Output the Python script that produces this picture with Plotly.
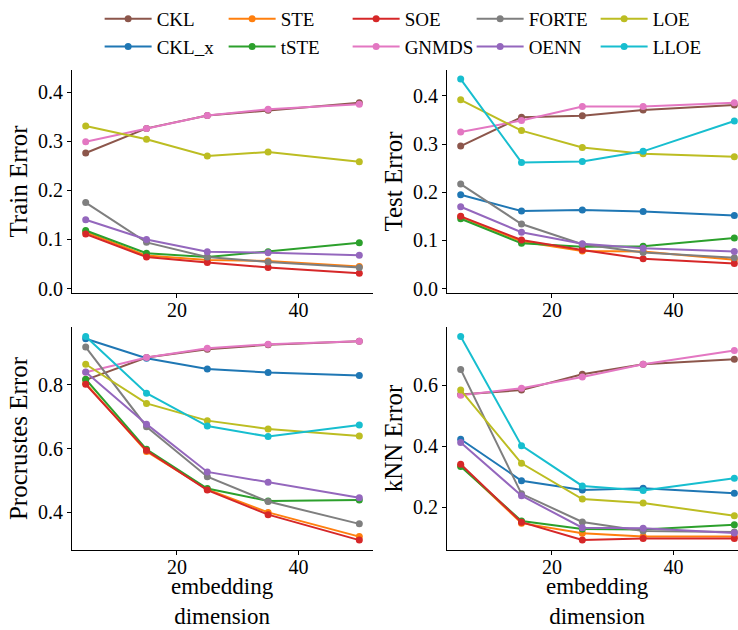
import plotly.graph_objects as go

dims = [5, 15, 25, 35, 50]

methods = ["CKL", "CKL_x", "STE", "tSTE", "SOE", "GNMDS", "FORTE", "OENN", "LOE", "LLOE"]
colors = {
    "CKL": "#8c564b", "CKL_x": "#1f77b4", "STE": "#ff7f0e", "tSTE": "#2ca02c",
    "SOE": "#d62728", "GNMDS": "#e377c2", "FORTE": "#7f7f7f", "OENN": "#9467bd",
    "LOE": "#bcbd22", "LLOE": "#17becf",
}
legend_rank = {"CKL": 1, "STE": 2, "SOE": 3, "FORTE": 4, "LOE": 5,
               "CKL_x": 6, "tSTE": 7, "GNMDS": 8, "OENN": 9, "LLOE": 10}

train_error = {
    "CKL":   [0.276, 0.326, 0.352, 0.363, 0.378],
    "STE":   [0.115, 0.067, 0.058, 0.056, 0.045],
    "tSTE":  [0.118, 0.072, 0.064, 0.075, 0.093],
    "SOE":   [0.111, 0.064, 0.053, 0.043, 0.031],
    "GNMDS": [0.299, 0.326, 0.352, 0.365, 0.375],
    "FORTE": [0.175, 0.094, 0.064, 0.054, 0.043],
    "OENN":  [0.140, 0.100, 0.075, 0.073, 0.068],
    "LOE":   [0.331, 0.304, 0.270, 0.278, 0.258],
}

test_error = {
    "CKL":   [0.296, 0.356, 0.359, 0.371, 0.381],
    "CKL_x": [0.195, 0.161, 0.163, 0.160, 0.152],
    "STE":   [0.149, 0.098, 0.078, 0.077, 0.060],
    "tSTE":  [0.145, 0.094, 0.087, 0.088, 0.105],
    "SOE":   [0.150, 0.101, 0.080, 0.062, 0.052],
    "GNMDS": [0.325, 0.349, 0.378, 0.378, 0.386],
    "FORTE": [0.217, 0.134, 0.092, 0.075, 0.064],
    "OENN":  [0.170, 0.117, 0.093, 0.084, 0.077],
    "LOE":   [0.392, 0.328, 0.293, 0.280, 0.274],
    "LLOE":  [0.435, 0.262, 0.264, 0.285, 0.348],
}

procrustes_error = {
    "CKL":   [0.816, 0.886, 0.912, 0.926, 0.937],
    "CKL_x": [0.945, 0.884, 0.850, 0.839, 0.830],
    "STE":   [0.805, 0.591, 0.472, 0.400, 0.324],
    "tSTE":  [0.818, 0.598, 0.475, 0.436, 0.439],
    "SOE":   [0.802, 0.594, 0.470, 0.393, 0.313],
    "GNMDS": [0.840, 0.886, 0.915, 0.928, 0.937],
    "FORTE": [0.919, 0.669, 0.512, 0.434, 0.364],
    "OENN":  [0.841, 0.677, 0.527, 0.495, 0.446],
    "LOE":   [0.865, 0.742, 0.688, 0.662, 0.640],
    "LLOE":  [0.952, 0.774, 0.671, 0.638, 0.674],
}

knn_error = {
    "CKL":   [0.570, 0.584, 0.636, 0.669, 0.685],
    "CKL_x": [0.423, 0.287, 0.257, 0.262, 0.246],
    "STE":   [0.337, 0.148, 0.115, 0.104, 0.104],
    "tSTE":  [0.334, 0.155, 0.129, 0.127, 0.143],
    "SOE":   [0.341, 0.151, 0.093, 0.098, 0.098],
    "GNMDS": [0.567, 0.590, 0.627, 0.669, 0.714],
    "FORTE": [0.652, 0.244, 0.152, 0.122, 0.119],
    "OENN":  [0.412, 0.238, 0.133, 0.131, 0.116],
    "LOE":   [0.584, 0.344, 0.227, 0.214, 0.172],
    "LLOE":  [0.760, 0.402, 0.270, 0.255, 0.295],
}

x_ticks = [20, 40]
train_ticks = [0.0, 0.1, 0.2, 0.3, 0.4]
test_ticks = [0.0, 0.1, 0.2, 0.3, 0.4]
procrustes_ticks = [0.4, 0.6, 0.8]
knn_ticks = [0.2, 0.4, 0.6]
x_title = "embedding<br>dimension"

FONT = "Liberation Serif"

panels = [
    (train_error, "x", "y"),
    (test_error, "x2", "y2"),
    (procrustes_error, "x3", "y3"),
    (knn_error, "x4", "y4"),
]

fig = go.Figure()
shown = set()
for data, xa, ya in panels:
    for m in methods:
        if m not in data:
            continue
        fig.add_trace(go.Scatter(
            x=dims, y=data[m], xaxis=xa, yaxis=ya,
            mode="lines+markers", name=m,
            showlegend=(m not in shown), legendrank=legend_rank[m],
            line=dict(color=colors[m], width=2),
            marker=dict(color=colors[m], size=7),
            cliponaxis=False,
        ))
        shown.add(m)

tickfont = dict(family=FONT, size=20, color="black")
titlefont = dict(family=FONT, size=25, color="black")

def xaxis(domain, rng, anchor):
    return dict(domain=domain, range=rng, anchor=anchor, tickvals=x_ticks,
                ticks="outside", ticklen=4, tickwidth=1, tickcolor="black",
                showline=True, linecolor="black", linewidth=1, showgrid=False,
                zeroline=False, tickfont=tickfont, automargin=False,
                ticklabelstandoff=-5)

def yaxis(domain, rng, anchor, ticks, title):
    return dict(domain=domain, range=rng, anchor=anchor, tickvals=ticks,
                ticktext=[f"{t:.1f}" for t in ticks],
                ticks="outside", ticklen=4, tickwidth=1, tickcolor="black",
                showline=True, linecolor="black", linewidth=1, showgrid=False,
                zeroline=False, tickfont=tickfont, automargin=False,
                title=dict(text=title, font=titlefont, standoff=3))

xl = [0.0976, 0.5054]
xr = [0.6057, 1.0]
yt = [0.535, 0.889]
yb = [0.127, 0.481]

fig.update_layout(
    width=738, height=630,
    margin=dict(l=0, r=0, t=0, b=0),
    paper_bgcolor="white", plot_bgcolor="white",
    font=dict(family=FONT, color="black"),
    xaxis=xaxis(xl, [2.75, 52.25], "y"),
    yaxis=yaxis(yt, [-0.009, 0.445], "x", train_ticks, "Train Error"),
    xaxis2=xaxis(xr, [2.75, 50.6], "y2"),
    yaxis2=yaxis(yt, [-0.009, 0.454], "x2", test_ticks, "Test Error"),
    xaxis3=xaxis(xl, [2.75, 52.25], "y3"),
    yaxis3=yaxis(yb, [0.282, 0.982], "x3", procrustes_ticks, "Procrustes Error"),
    xaxis4=xaxis(xr, [2.75, 50.6], "y4"),
    yaxis4=yaxis(yb, [0.060, 0.791], "x4", knn_ticks, "kNN Error"),
    legend=dict(orientation="h", x=0.135, xanchor="left", y=1.0, yanchor="top",
                font=dict(family=FONT, size=19, color="black"),
                entrywidth=62, itemwidth=47, tracegroupgap=0,
                bgcolor="rgba(0,0,0,0)"),
)

for xc in [0.301, 0.8096]:
    fig.add_annotation(text=x_title, xref="paper", yref="paper",
                       x=xc, y=0.0, xanchor="center", yanchor="bottom",
                       showarrow=False, borderpad=0,
                       font=dict(family=FONT, size=23, color="black"))

fig.write_html("out.html",
               config={"displayModeBar": False},
               post_script="document.body.style.margin='0';document.body.style.overflow='hidden';")
